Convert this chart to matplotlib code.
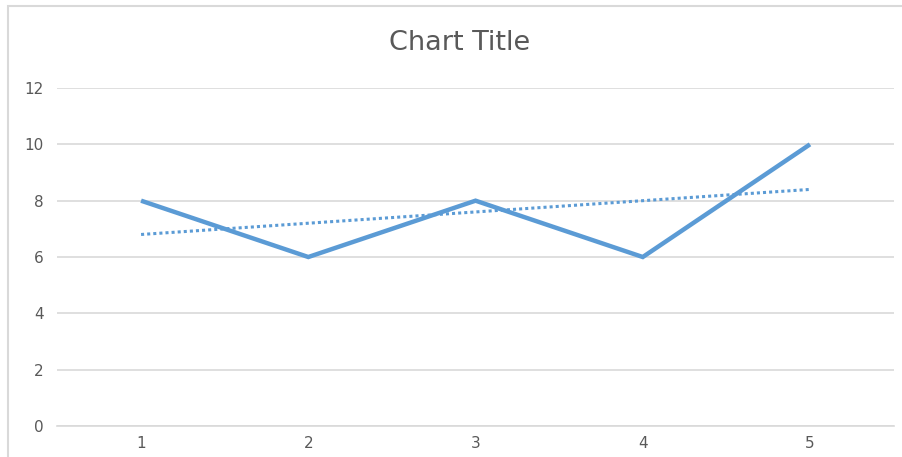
"""Excel-style line chart with a dotted linear trendline."""

import matplotlib.pyplot as plt
from matplotlib.patches import Rectangle


CATEGORIES = [1, 2, 3, 4, 5]
SERIES_VALUES = [8, 6, 8, 6, 10]
TREND_VALUES = [6.8, 7.2, 7.6, 8.0, 8.4]
Y_TICKS = [0, 2, 4, 6, 8, 10, 12]

LINE_COLOR = "#5B9BD5"
TEXT_COLOR = "#595959"
GRID_COLOR = "#D9D9D9"

plt.rcParams["font.family"] = ["DejaVu Sans"]

figure = plt.figure(figsize=(9.02, 4.57), dpi=100)
axis = figure.add_axes([0.0637, 0.0678, 0.927, 0.7396])

# chart area border (left and top edges visible in the reference)
figure.patches.append(
    Rectangle(
        (8 / 902, -0.1),
        1.2,
        1.1 - 6 / 457,
        transform=figure.transFigure,
        fill=False,
        edgecolor=GRID_COLOR,
        linewidth=1.5,
    )
)

axis.plot(
    CATEGORIES,
    SERIES_VALUES,
    color=LINE_COLOR,
    linewidth=3.2,
    solid_joinstyle="miter",
    solid_capstyle="butt",
    zorder=3,
)
axis.plot(
    CATEGORIES,
    TREND_VALUES,
    color=LINE_COLOR,
    linewidth=2.2,
    linestyle=(0, (1, 1)),
    dash_capstyle="butt",
    zorder=3,
)

axis.set_xlim(0.5, 5.5)
axis.set_ylim(0, 12)
axis.set_xticks(CATEGORIES)
axis.set_yticks(Y_TICKS)
axis.grid(True, axis="y", color=GRID_COLOR, linewidth=1.2)
axis.set_axisbelow(True)
for side in ("top", "right", "left"):
  axis.spines[side].set_visible(False)
axis.spines["bottom"].set_color(GRID_COLOR)
axis.spines["bottom"].set_linewidth(1.2)
axis.tick_params(
    axis="both", length=0, labelsize=11, labelcolor=TEXT_COLOR
)
axis.tick_params(axis="y", pad=10)
axis.tick_params(axis="x", pad=7)

figure.text(
    0.510, 1 - 43 / 457, "Chart Title",
    ha="center", va="center", fontsize=19.5, color=TEXT_COLOR,
)

figure.savefig("out.png", dpi=100)
